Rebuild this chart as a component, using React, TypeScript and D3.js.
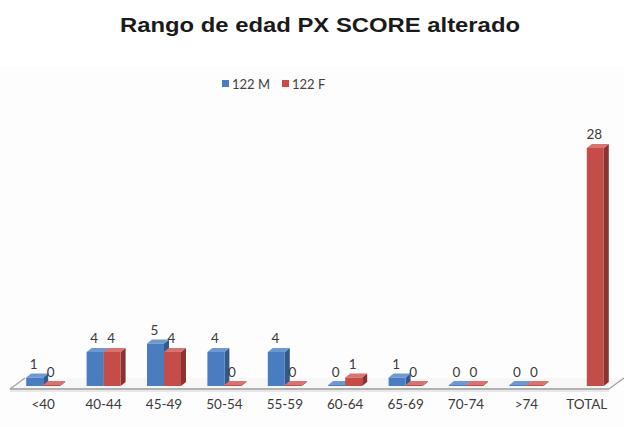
import React from "react";
import * as d3 from "d3";

const categories = ["<40", "40-44", "45-49", "50-54", "55-59", "60-64", "65-69", "70-74", ">74", "TOTAL"];
const seriesNames = ["122 M", "122 F"];
const valuesM: (number | null)[] = [1, 4, 5, 4, 4, 0, 1, 0, 0, null];
const valuesF: (number | null)[] = [0, 4, 4, 0, 0, 1, 0, 0, 0, 28];

const W = 624;
const H = 427;
const colors = [
  { front: "#4a7dc0", side: "#345a8c", top: "#6f98d0" },
  { front: "#c44d4a", side: "#8a3331", top: "#d67472" },
];
const font = "Lato, 'Open Sans', sans-serif";

export default function App() {
  const x = d3.scaleBand<string>().domain(categories).range([13, 617]).paddingInner(0).paddingOuter(0);
  const y = d3.scaleLinear().domain([0, 28]).range([386, 148]);
  const barW = 17;
  const dx = 5;
  const dy = -4;
  const series = [valuesM, valuesF];

  const bars: React.ReactNode[] = [];
  const labels: React.ReactNode[] = [];
  categories.forEach((c, i) => {
    const cx = (x(c) as number) + x.bandwidth() / 2;
    series.forEach((vals, s) => {
      const v = vals[i];
      if (v === null || v === undefined) return;
      const x0 = cx - barW + s * barW;
      const x1 = x0 + barW;
      const yb = y(0);
      const yt = Math.min(y(v), yb - 1);
      const col = colors[s];
      bars.push(
        <g key={`b${i}-${s}`}>
          <polygon points={`${x1},${yt} ${x1 + dx},${yt + dy} ${x1 + dx},${yb + dy} ${x1},${yb}`} fill={col.side} />
          <polygon points={`${x0},${yt} ${x0 + dx},${yt + dy} ${x1 + dx},${yt + dy} ${x1},${yt}`} fill={col.top} />
          <rect x={x0} y={yt} width={barW} height={yb - yt} fill={col.front} />
        </g>
      );
      labels.push(
        <text key={`l${i}-${s}`} x={x0 + barW / 2 - 1} y={y(v) - 9} textAnchor="middle" fontSize={13.5} fill="#3a3a3a" fontFamily={font}>
          {v}
        </text>
      );
    });
  });

  return (
    <svg width={W} height={H} style={{ position: "absolute", left: 0, top: 0 }}>
      <rect x={0} y={0} width={W} height={H} fill="#ffffff" />
      <rect x={0} y={66} width={W} height={H - 66} fill="#fdfdfd" />
      <text x={320} y={32} textAnchor="middle" fontSize={20} fontWeight="bold" fill="#1a1a1a"
        fontFamily="Arial, 'Liberation Sans', sans-serif" textLength={400} lengthAdjust="spacingAndGlyphs">
        Rango de edad PX SCORE alterado
      </text>
      {/* legend */}
      {seriesNames.map((n, s) => {
        const lx = 222 + s * 60;
        return (
          <g key={n}>
            <rect x={lx} y={80} width={7} height={7} fill={colors[s].front} />
            <text x={lx + 10} y={88.5} fontSize={13} fill="#404040" fontFamily={font}>{n}</text>
          </g>
        );
      })}
      {/* floor */}
      <polygon points="10,389 25,378 624,378 609,389" fill="#f7f7f7" />
      <line x1={10} y1={389} x2={609} y2={389} stroke="#9a9a9a" strokeWidth={1.5} />
      <line x1={10} y1={389} x2={25} y2={378} stroke="#a0a0a0" strokeWidth={1.2} />
      <line x1={609} y1={389} x2={624} y2={378} stroke="#a0a0a0" strokeWidth={1.2} />
      <line x1={10} y1={391} x2={609} y2={391} stroke="#e8e8e8" strokeWidth={2} />
      {bars}
      {labels}
      {categories.map((c) => (
        <text key={c} x={(x(c) as number) + x.bandwidth() / 2} y={409} textAnchor="middle" fontSize={13.5} fill="#3a3a3a" fontFamily={font}>
          {c}
        </text>
      ))}
    </svg>
  );
}
